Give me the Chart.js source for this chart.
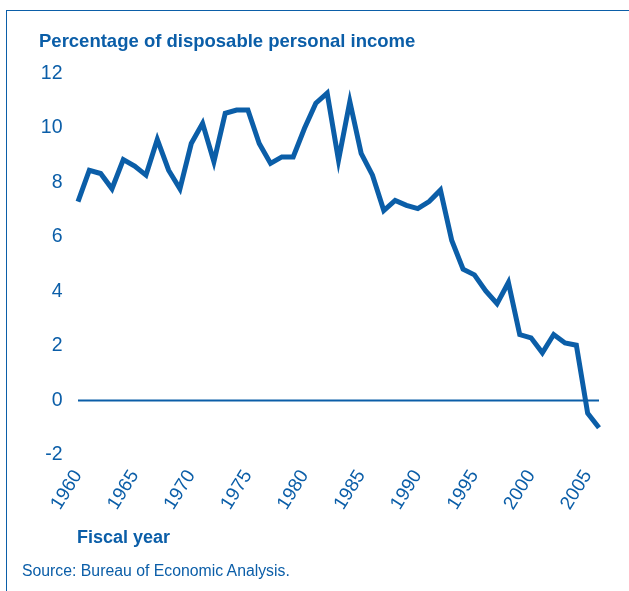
<!DOCTYPE html>
<html>
<head>
<meta charset="utf-8">
<script src="https://cdn.jsdelivr.net/npm/chart.js@4.4.1/dist/chart.umd.min.js"></script>
<style>
  html, body { margin: 0; padding: 0; background: #fff; }
  body { width: 629px; height: 591px; position: relative; overflow: hidden;
         font-family: "Liberation Sans", Arial, Helvetica, sans-serif; color: #0b5ea8; }
  #frame { position: absolute; left: 6px; top: 10px; width: 640px; height: 600px;
           border-left: 1.5px solid #0b5ea8; border-top: 1.5px solid #0b5ea8; }
  #wrap { position: absolute; left: 0; top: 0; width: 629px; height: 591px; }
  .txt { position: absolute; white-space: nowrap; line-height: 1; }
  #ytitle { left: 39px; top: 32px; font-size: 18.5px; font-weight: bold; }
  #xtitle { left: 77px; top: 528px; font-size: 18px; font-weight: bold; }
  #source { left: 22px; top: 563px; font-size: 15.8px; }
</style>
</head>
<body>
<div id="frame"></div>
<div id="wrap"><canvas id="chart" width="629" height="591"></canvas></div>
<div class="txt" id="ytitle">Percentage of disposable personal income</div>
<div class="txt" id="xtitle">Fiscal year</div>
<div class="txt" id="source">Source: Bureau of Economic Analysis.</div>

<script>
// Personal saving rate
const years = [
  1960, 1961, 1962, 1963, 1964, 1965, 1966, 1967, 1968, 1969,
  1970, 1971, 1972, 1973, 1974, 1975, 1976, 1977, 1978, 1979,
  1980, 1981, 1982, 1983, 1984, 1985, 1986, 1987, 1988, 1989,
  1990, 1991, 1992, 1993, 1994, 1995, 1996, 1997, 1998, 1999,
  2000, 2001, 2002, 2003, 2004, 2005, 2006,
];
const savingRate = [
  7.3, 8.45, 8.33, 7.77, 8.84, 8.6, 8.27, 9.58, 8.45, 7.77,
  9.43, 10.17, 8.76, 10.54, 10.66, 10.66, 9.43, 8.7, 8.94, 8.94,
  9.99, 10.91, 11.28, 8.82, 10.97, 9.07, 8.27, 6.97, 7.34, 7.16,
  7.04, 7.3, 7.72, 5.87, 4.82, 4.61, 4.02, 3.55, 4.33, 2.42,
  2.3, 1.75, 2.42, 2.11, 2.03, -0.47, -1.0,
];
const xTicks = [1960, 1965, 1970, 1975, 1980, 1985, 1990, 1995, 2000, 2005];
const yTicks = [-2, 0, 2, 4, 6, 8, 10, 12];

const BLUE = '#0b5ea8';
const FONT = '"Liberation Sans", Arial, Helvetica, sans-serif';

// zero reference line across the plot
const zeroLine = {
  id: 'zeroLine',
  beforeDatasetsDraw(chart) {
    const { ctx, scales: { x, y } } = chart;
    const py = y.getPixelForValue(0);
    ctx.save();
    ctx.strokeStyle = BLUE;
    ctx.lineWidth = 2;
    ctx.beginPath();
    ctx.moveTo(x.getPixelForValue(years[0]), py);
    ctx.lineTo(x.getPixelForValue(years[years.length - 1]), py);
    ctx.stroke();
    ctx.restore();
  },
};

new Chart(document.getElementById('chart').getContext('2d'), {
  type: 'line',
  data: {
    datasets: [{
      data: years.map((yr, i) => ({ x: yr, y: savingRate[i] })),
      borderColor: BLUE,
      borderWidth: 5,
      pointRadius: 0,
      tension: 0,
      clip: false,
    }],
  },
  options: {
    responsive: false,
    animation: false,
    layout: { padding: { left: 0, top: 73.5, right: 30, bottom: 0 } },
    plugins: { legend: { display: false }, tooltip: { enabled: false } },
    scales: {
      x: {
        type: 'linear',
        min: 1960,
        max: 2006,
        grid: { display: false, drawTicks: false },
        border: { display: false },
        afterBuildTicks: s => { s.ticks = xTicks.map(v => ({ value: v })); },
        afterFit: s => { s.height = 136; },
        ticks: {
          color: BLUE,
          font: { family: FONT, size: 19 },
          minRotation: 58,
          maxRotation: 58,
          padding: 11,
          autoSkip: false,
          callback: v => String(v),
        },
      },
      y: {
        min: -2,
        max: 12,
        grid: { display: false, drawTicks: false },
        border: { display: false },
        afterBuildTicks: s => { s.ticks = yTicks.map(v => ({ value: v })); },
        afterFit: s => { s.width = 78; },
        ticks: {
          color: BLUE,
          font: { family: FONT, size: 19.5 },
          padding: 15.5,
        },
      },
    },
  },
  plugins: [zeroLine],
});
</script>
</body>
</html>
